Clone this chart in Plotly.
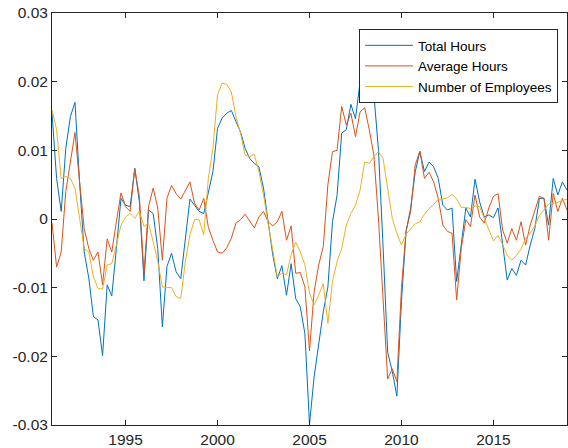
import plotly.graph_objects as go

start_year = 1991
n_quarters = 113
dates = [start_year + 0.25 * k for k in range(n_quarters)]

total_hours = [
    0.0154, 0.0059, 0.0011, 0.0103, 0.0149, 0.0170, 0.0054, -0.0048, -0.0086, -0.0142,
    -0.0147, -0.0199, -0.0096, -0.0112, -0.0043, 0.0030, 0.0020, 0.0018, 0.0074, 0.0025,
    -0.0090, 0.0013, 0.0008, -0.0043, -0.0157, -0.0069, -0.0050, -0.0077, -0.0087, -0.0033,
    0.0029, 0.0020, 0.0011, 0.0008, 0.0040, 0.0069, 0.0132, 0.0147, 0.0154, 0.0158,
    0.0142, 0.0127, 0.0103, 0.0088, 0.0081, 0.0076, 0.0045, -0.0004, -0.0052, -0.0087,
    -0.0068, -0.0111, -0.0065, -0.0116, -0.0128, -0.0167, -0.0299, -0.0230, -0.0181, -0.0135,
    -0.0099, -0.0004, 0.0035, 0.0125, 0.0130, 0.0167, 0.0146, 0.0200, 0.0220, 0.0210,
    0.0182, 0.0100, -0.0040, -0.0194, -0.0222, -0.0258, -0.0120, -0.0018, 0.0016, 0.0069,
    0.0098, 0.0069, 0.0083, 0.0076, 0.0059, 0.0020, 0.0013, 0.0016, -0.0091, -0.0033,
    0.0016, 0.0003, 0.0058, 0.0025, 0.0003, 0.0006, 0.0002, 0.0016, -0.0033, -0.0089,
    -0.0072, -0.0082, -0.0060, -0.0067, -0.0038, -0.0014, 0.0030, 0.0030, -0.0009, 0.0059,
    0.0035, 0.0054, 0.0042,
]

average_hours = [
    -0.0006, -0.0070, -0.0048, 0.0040, 0.0083, 0.0126, 0.0054, -0.0014, -0.0043, -0.0060,
    -0.0048, -0.0096, -0.0029, -0.0048, -0.0004, 0.0038, 0.0018, 0.0011, 0.0073, 0.0033,
    -0.0079, 0.0018, 0.0045, 0.0016, -0.0060, 0.0030, 0.0049, 0.0037, 0.0029, 0.0042,
    0.0054, 0.0023, 0.0013, 0.0030, -0.0012, -0.0031, -0.0048, -0.0050, -0.0042, -0.0028,
    -0.0006, -0.0001, 0.0007, -0.0003, -0.0013, 0.0003, 0.0011, -0.0004, -0.0010, -0.0004,
    0.0011, -0.0031, -0.0010, -0.0079, -0.0078, -0.0099, -0.0192, -0.0106, -0.0067, -0.0040,
    0.0050, 0.0098, 0.0100, 0.0164, 0.0137, 0.0154, 0.0120, 0.0156, 0.0162, 0.0130,
    0.0093, 0.0000, -0.0110, -0.0233, -0.0218, -0.0237, -0.0100, -0.0018, 0.0011, 0.0079,
    0.0099, 0.0059, 0.0068, 0.0054, 0.0030, -0.0009, -0.0018, -0.0021, -0.0118, -0.0043,
    -0.0001, -0.0011, 0.0035, 0.0003, -0.0006, 0.0016, 0.0033, 0.0037, -0.0016, -0.0035,
    -0.0014, -0.0031, -0.0004, -0.0038, -0.0009, 0.0011, 0.0033, 0.0030, -0.0031, 0.0037,
    0.0011, 0.0030, 0.0013,
]

number_of_employees = [
    0.0159, 0.0130, 0.0059, 0.0062, 0.0059, 0.0045, 0.0001, -0.0043, -0.0048, -0.0084,
    -0.0101, -0.0102, -0.0067, -0.0065, -0.0038, -0.0009, 0.0003, 0.0008, 0.0001, 0.0011,
    -0.0011, -0.0006, -0.0033, -0.0062, -0.0099, -0.0099, -0.0100, -0.0113, -0.0116, -0.0062,
    -0.0023, -0.0001, -0.0001, -0.0023, 0.0059, 0.0103, 0.0181, 0.0198, 0.0196, 0.0185,
    0.0149, 0.0125, 0.0093, 0.0091, 0.0094, 0.0069, 0.0035, -0.0006, -0.0048, -0.0084,
    -0.0079, -0.0081, -0.0052, -0.0034, -0.0048, -0.0067, -0.0108, -0.0125, -0.0111, -0.0094,
    -0.0152, -0.0091, -0.0062, -0.0043, -0.0009, 0.0008, 0.0020, 0.0042, 0.0083, 0.0081,
    0.0091, 0.0098, 0.0088, 0.0045, 0.0001, -0.0021, -0.0038, -0.0022, -0.0014, -0.0007,
    -0.0004, 0.0007, 0.0015, 0.0021, 0.0029, 0.0029, 0.0031, 0.0036, 0.0029, 0.0017,
    0.0017, 0.0015, 0.0019, 0.0018, 0.0001, -0.0016, -0.0032, -0.0024, -0.0037, -0.0053,
    -0.0060, -0.0053, -0.0044, -0.0028, -0.0021, -0.0010, 0.0005, 0.0013, 0.0022, 0.0023,
    0.0024, 0.0027, 0.0029,
]

x_ticks = [1995, 2000, 2005, 2010, 2015]
x_tick_labels = ["1995", "2000", "2005", "2010", "2015"]
y_ticks = [-0.03, -0.02, -0.01, 0, 0.01, 0.02, 0.03]
y_tick_labels = ["-0.03", "-0.02", "-0.01", "0", "0.01", "0.02", "0.03"]

series = [
    ("Total Hours", total_hours, "#0072BD"),
    ("Average Hours", average_hours, "#D95319"),
    ("Number of Employees", number_of_employees, "#EDB120"),
]

axis_color = "#262626"
font_family = "Liberation Sans, Arial, Helvetica, sans-serif"

fig = go.Figure()
for name, vals, color in series:
    fig.add_trace(go.Scatter(
        x=dates, y=vals, mode="lines", name=name,
        line=dict(color=color, width=1),
    ))

common_axis = dict(
    showline=True, linecolor=axis_color, linewidth=1, mirror="ticks",
    ticks="inside", ticklen=5, tickcolor=axis_color, tickwidth=1,
    showgrid=False, zeroline=False, automargin=False,
    ticklabeloverflow="allow",
    tickfont=dict(family=font_family, size=15.5, color=axis_color),
)

fig.update_xaxes(range=[1991, 2019], tickvals=x_ticks, ticktext=x_tick_labels, **common_axis)
fig.update_yaxes(range=[-0.03, 0.03], tickvals=y_ticks, ticktext=y_tick_labels, **common_axis)

fig.update_layout(
    width=568, height=448,
    margin=dict(l=52, r=1, t=13, b=23, autoexpand=False),
    plot_bgcolor="white", paper_bgcolor="white",
    font=dict(family=font_family, color=axis_color),
    legend=dict(
        x=0.9825, y=0.961, xanchor="right", yanchor="top",
        bgcolor="white", bordercolor=axis_color, borderwidth=1,
        font=dict(family=font_family, size=13.5, color="#000000"),
        itemwidth=48, tracegroupgap=0,
    ),
)

# Remove the browser's default 8px body margin so the figure fills the window exactly.
fig.write_html(
    "out.html",
    config={"displayModeBar": False},
    post_script="document.body.style.margin='0';document.body.style.overflow='hidden';",
)
